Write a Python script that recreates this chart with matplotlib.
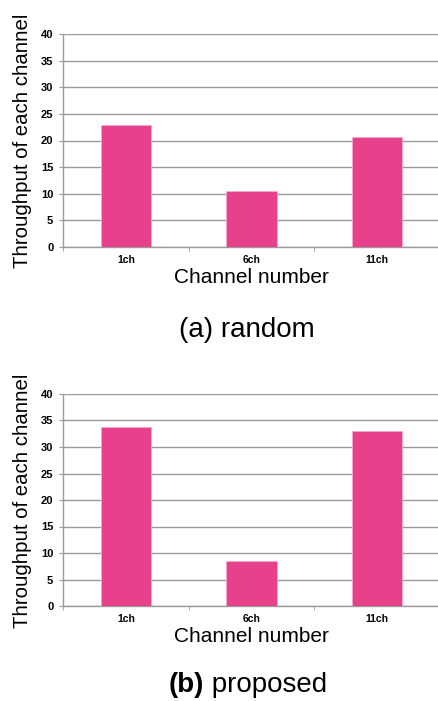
import matplotlib.pyplot as plt
import numpy as np

plt.rcParams['font.family'] = ['Liberation Sans', 'DejaVu Sans']

channels = ['1ch', '6ch', '11ch']
random_tp = [23.0, 10.5, 20.6]
proposed_tp = [33.8, 8.4, 33.0]
yticks = [0, 5, 10, 15, 20, 25, 30, 35, 40]

bar_color = '#e6418a'
grid_color = '#9a9a9a'

fig = plt.figure(figsize=(4.38, 7.01), dpi=100)


def draw_panel(rect, values):
    ax = fig.add_axes(rect)
    x = np.arange(len(channels))
    ax.bar(x, values, width=0.4, color=bar_color, zorder=3,
           edgecolor='#f7a8c8', linewidth=0.6)
    ax.set_xlim(-0.5, len(channels) - 0.5)
    ax.set_ylim(0, 40)
    ax.set_yticks(yticks)
    ax.set_yticklabels([str(v) for v in yticks], fontsize=8, fontweight='bold')
    ax.set_xticks(x)
    ax.set_xticklabels(channels, fontsize=7.5, fontweight='bold')
    ax.tick_params(axis='x', length=0, pad=6)
    ax.tick_params(axis='y', length=3, color=grid_color, pad=4)
    # category boundary ticks
    ax.set_xticks(np.arange(len(channels) + 1) - 0.5, minor=True)
    ax.tick_params(axis='x', which='minor', length=3, color=grid_color)
    ax.yaxis.grid(True, color=grid_color, linewidth=1.0, zorder=0)
    for s in ['top', 'right']:
        ax.spines[s].set_visible(False)
    ax.spines['left'].set_color(grid_color)
    ax.spines['bottom'].set_color(grid_color)
    ax.spines['left'].set_linewidth(1.0)
    ax.spines['bottom'].set_linewidth(1.0)
    ax.set_xlabel('Channel number', fontsize=15, labelpad=2)
    return ax


W, H = 438.0, 701.0
ax1 = draw_panel([63 / W, 1 - 247 / H, 377 / W, 213 / H], random_tp)
ax2 = draw_panel([63 / W, 1 - 606 / H, 377 / W, 212 / H], proposed_tp)

fig.text(23 / W, 1 - 268 / H, 'Throughput of each channel', rotation=90,
         ha='center', va='bottom', fontsize=14.7)
fig.text(23 / W, 1 - 628 / H, 'Throughput of each channel', rotation=90,
         ha='center', va='bottom', fontsize=14.7)

fig.text(247 / W, 1 - 330 / H, '(a) random', ha='center', va='center',
         fontsize=20)
fig.text(204 / W, 1 - 685 / H, '(b)', ha='right', va='center',
         fontsize=20, fontweight='bold')
fig.text(204 / W, 1 - 685 / H, ' proposed', ha='left', va='center',
         fontsize=20)

fig.savefig('out.png', dpi=100)
